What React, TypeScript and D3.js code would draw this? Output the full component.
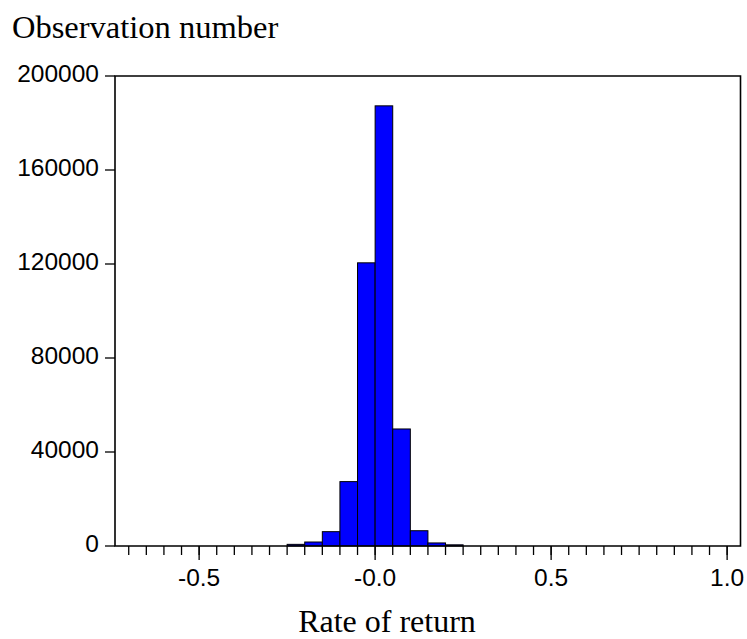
import React from 'react';
import * as d3 from 'd3';

// histogram bins (left edge, width 0.05) and observation counts
const binLeft = [-0.25, -0.2, -0.15, -0.1, -0.05, 0, 0.05, 0.1, 0.15, 0.2];
const binCounts = [700, 1700, 6100, 27400, 120500, 187300, 49800, 6500, 1300, 500];
const binWidth = 0.05;

const xMajorValues = [-0.5, 0, 0.5, 1.0];
const xMajorLabels = ['-0.5', '-0.0', '0.5', '1.0'];
const yTickValues = [0, 40000, 80000, 120000, 160000, 200000];

const W = 747;
const H = 639;

const App = () => {
  const left = 115, right = 740.5, top = 76, bottom = 546;

  const x = d3.scaleLinear().domain([-0.739, 1.038]).range([left, right]);
  const y = d3.scaleLinear().domain([0, 200000]).range([bottom, top]);

  const minorTicks = d3.range(-70, 101, 5).map(d => d / 100);

  const sans = 'Liberation Sans, Arial, sans-serif';
  const serif = 'Liberation Serif, Times New Roman, serif';

  return (
    <svg width={W} height={H} style={{ position: 'absolute', left: 0, top: 0, background: '#fff' }}>
      <text x={12} y={38} fontFamily={serif} fontSize={32.5} fill="#000">Observation number</text>

      {/* bars */}
      {binLeft.map((b, i) => (
        <rect key={i}
          x={x(b)} y={y(binCounts[i])}
          width={x(b + binWidth) - x(b)}
          height={y(0) - y(binCounts[i])}
          fill="#0000ff" stroke="#000" strokeWidth={1} />
      ))}

      {/* frame */}
      <path d={`M${left},${bottom}V${top}H${right}V${bottom}H${left}Z`} fill="none" stroke="#000" strokeWidth={1.6} />

      {/* y ticks */}
      {yTickValues.map(v => (
        <g key={v}>
          <line x1={left - 10} x2={left} y1={y(v)} y2={y(v)} stroke="#000" strokeWidth={1.3} />
          <text x={99} y={y(v) + 6} textAnchor="end" fontFamily={sans} fontSize={24.5} fill="#000">{v}</text>
        </g>
      ))}

      {/* x ticks */}
      {minorTicks.map(v => (
        <line key={v} x1={x(v)} x2={x(v)} y1={bottom} y2={bottom + 9} stroke="#000" strokeWidth={1.3} />
      ))}
      {xMajorValues.map((v, i) => (
        <g key={v}>
          <line x1={x(v)} x2={x(v)} y1={bottom} y2={bottom + 14} stroke="#000" strokeWidth={1.3} />
          <text x={x(v)} y={586} textAnchor="middle" fontFamily={sans} fontSize={24.5} fill="#000">{xMajorLabels[i]}</text>
        </g>
      ))}

      <text x={387} y={632} textAnchor="middle" fontFamily={serif} fontSize={32} fill="#000">Rate of return</text>
    </svg>
  );
};

export default App;
